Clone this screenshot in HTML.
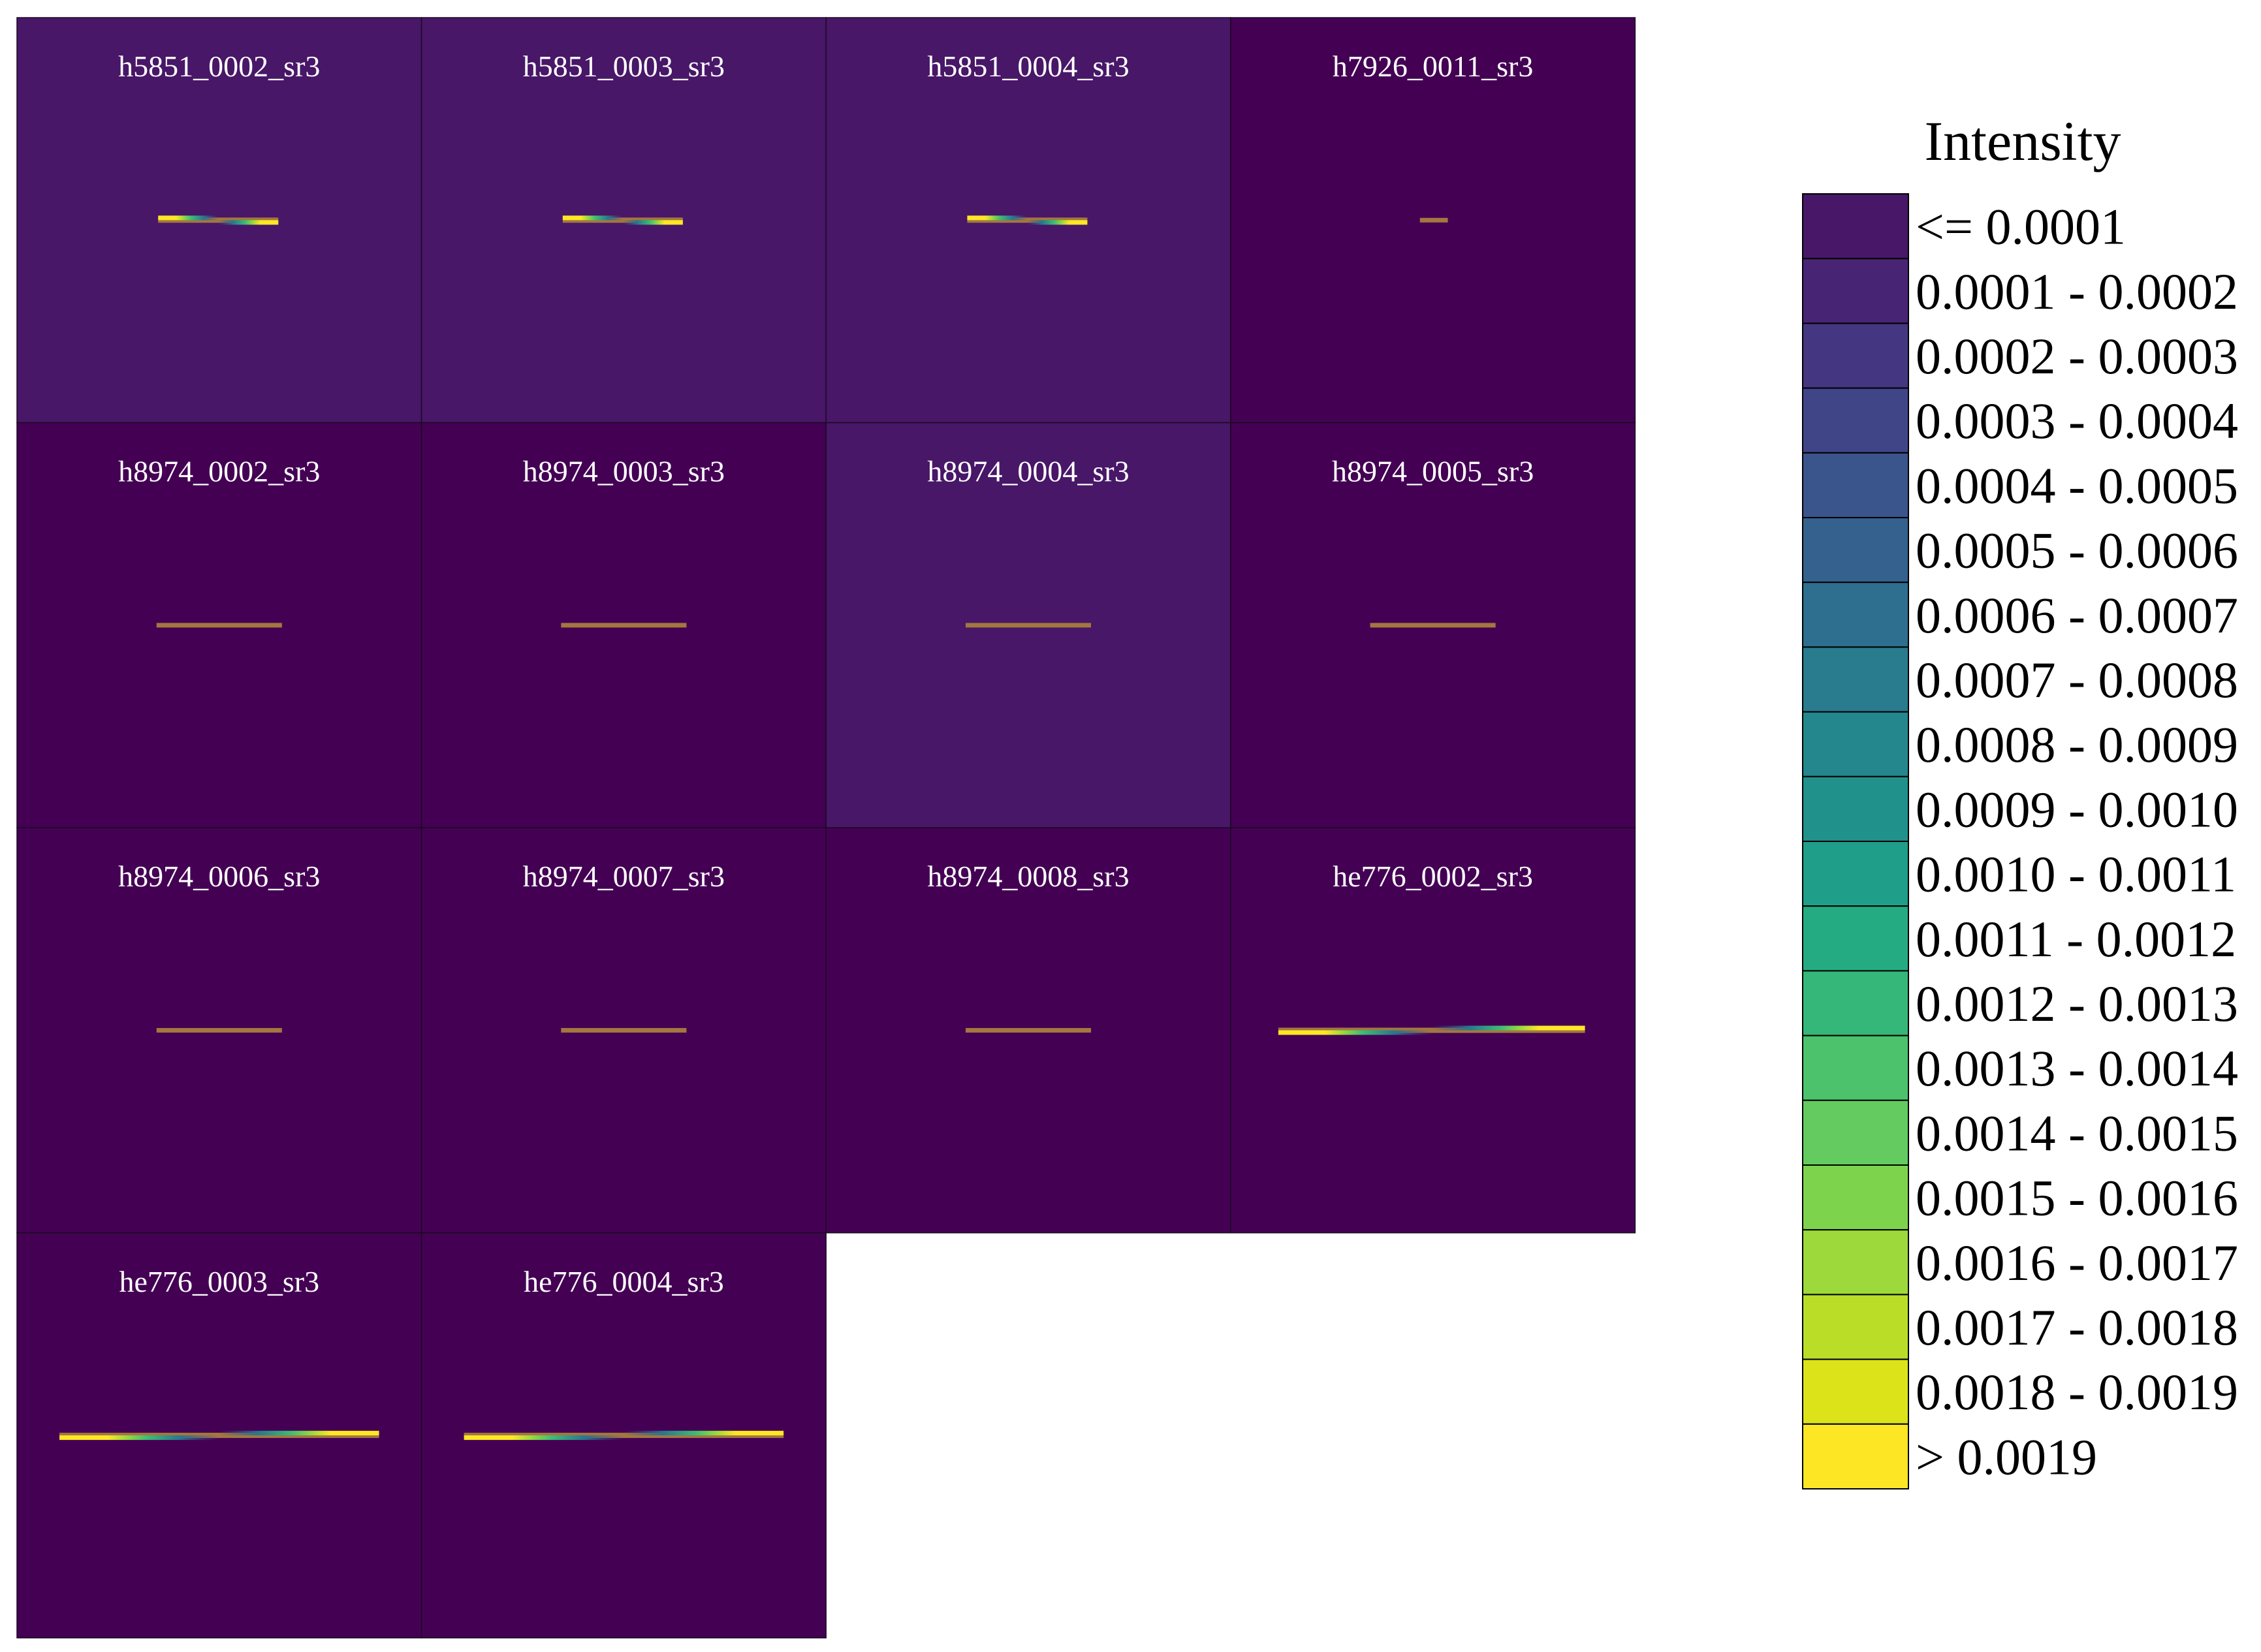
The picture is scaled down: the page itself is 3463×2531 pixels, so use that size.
<!DOCTYPE html>
<html><head><meta charset="utf-8"><style>
html,body{margin:0;padding:0;background:#fff;}
svg{display:block;}
text{font-family:"Liberation Serif",serif;}
</style></head><body>
<svg id="chart" width="3463" height="2531" viewBox="0 0 3463 2531" xmlns="http://www.w3.org/2000/svg">
<defs id="defs"></defs>
<g id="panels"></g>
<g id="legend"></g>
</svg>
<script>
// ---- data ----
const panelNames = ["h5851_0002_sr3","h5851_0003_sr3","h5851_0004_sr3","h7926_0011_sr3",
  "h8974_0002_sr3","h8974_0003_sr3","h8974_0004_sr3","h8974_0005_sr3",
  "h8974_0006_sr3","h8974_0007_sr3","h8974_0008_sr3","he776_0002_sr3",
  "he776_0003_sr3","he776_0004_sr3"];
const panelBgBin = [1,1,1,0, 0,0,1,0, 0,0,0,0, 0,0];
// stripe extent as fraction of panel width
const stripeStart = [0.349,0.349,0.349,0.468, 0.345,0.345,0.345,0.345, 0.345,0.345,0.345,0.118, 0.105,0.105];
const stripeEnd   = [0.646,0.646,0.646,0.537, 0.655,0.655,0.655,0.655, 0.655,0.655,0.655,0.876, 0.895,0.895];
// stripe kind: 0 = plain, 1 = coloured ends (left high), 2 = coloured ends (left low)
const stripeKind  = [1,1,1,0, 0,0,0,0, 0,0,0,2, 2,2];
const legendLabels = ["<= 0.0001","0.0001 - 0.0002","0.0002 - 0.0003","0.0003 - 0.0004","0.0004 - 0.0005",
  "0.0005 - 0.0006","0.0006 - 0.0007","0.0007 - 0.0008","0.0008 - 0.0009","0.0009 - 0.0010",
  "0.0010 - 0.0011","0.0011 - 0.0012","0.0012 - 0.0013","0.0013 - 0.0014","0.0014 - 0.0015",
  "0.0015 - 0.0016","0.0016 - 0.0017","0.0017 - 0.0018","0.0018 - 0.0019","> 0.0019"];
const legendColors = ["#481767","#482475","#453681","#404588","#3a548c","#34618d","#2e6e8e","#297b8e",
  "#24878e","#21918c","#1f9e89","#25ab82","#35b779","#4cc26c","#63cb5f","#7ed34d","#9dd93b","#bade28","#dce319","#fde725"];
const panelBgColors = ["#440154","#481768"];

// ---- layout ----
const NS="http://www.w3.org/2000/svg";
const gx0=26, gy0=27, pw=619.6, ph=620.6, cols=4;
function mk(tag,attrs,parent){const e=document.createElementNS(NS,tag);for(const k in attrs)e.setAttribute(k,attrs[k]);parent.appendChild(e);return e;}
const defs=document.getElementById('defs');
const gp=document.getElementById('panels');
const gl=document.getElementById('legend');

function grad(id,stops){const g=mk('linearGradient',{id:id,x1:'0',x2:'1',y1:'0',y2:'0'},defs);
  stops.forEach(s=>mk('stop',{offset:s[0],'stop-color':s[1],'stop-opacity':s[2]},g));}
grad('gL',[[0,'#fde725',1],[0.3,'#fde725',1],[0.42,'#9bd93c',1],[0.55,'#3dbc74',1],[0.75,'#2a788e',1],[1,'#3b528b',0]]);
grad('gR',[[0,'#3b528b',0],[0.25,'#2a788e',1],[0.45,'#3dbc74',1],[0.58,'#9bd93c',1],[0.7,'#fde725',1],[1,'#fde725',1]]);

panelNames.forEach((name,i)=>{
  const c=i%cols, r=Math.floor(i/cols);
  const x=gx0+c*pw, y=gy0+r*ph;
  const g=mk('g',{},gp);
  
  
  const bg=mk('rect',{x:x,y:y,width:pw,height:ph,fill:panelBgColors[panelBgBin[i]],stroke:'#1a0a20','stroke-width':1.5},g);
  
  
  const t=mk('text',{x:x+pw/2,y:y+90,'text-anchor':'middle','font-size':46,fill:'#ffffff'},g);
  t.textContent=name;
  
  
  const sx0=x+stripeStart[i]*pw, sx1=x+stripeEnd[i]*pw, len=sx1-sx0;
  const cy=y+ph*0.5;
  const kind=stripeKind[i];
  const sg=mk('g',{},g);
  
  
  if(kind===0){
    mk('rect',{x:sx0,y:cy-3.5,width:len,height:7,fill:'#a3773f'},sg);
  } else {
    const d=(kind===1)?-1:1;
    const th=7;
    mk('rect',{x:sx0,y:cy-4,width:len,height:8,fill:'#a3773f'},sg);
    mk('rect',{x:sx0,y:cy+(d<0?-th:0),width:len*0.5,height:th,fill:'url(#gL)'},sg);
    mk('rect',{x:sx0+len*0.5,y:cy+(d<0?0:-th),width:len*0.5,height:th,fill:'url(#gR)'},sg);
  }
});

// legend
const lx=2761, ly=297, lw=162, lh=99.2;
const lt=mk('text',{x:3098,y:245,'text-anchor':'middle','font-size':86,fill:'#000'},gl);
lt.textContent='Intensity';


legendLabels.forEach((lab,i)=>{
  const g=mk('g',{},gl);
  
  
  mk('rect',{x:lx,y:ly+i*lh,width:lw,height:lh,fill:legendColors[i],stroke:'#000','stroke-width':2},g);
  const t=mk('text',{x:2934,y:ly+i*lh+lh/2+27,'font-size':78,fill:'#000'},g);
  t.textContent=lab;
});
</script>
</body></html>
